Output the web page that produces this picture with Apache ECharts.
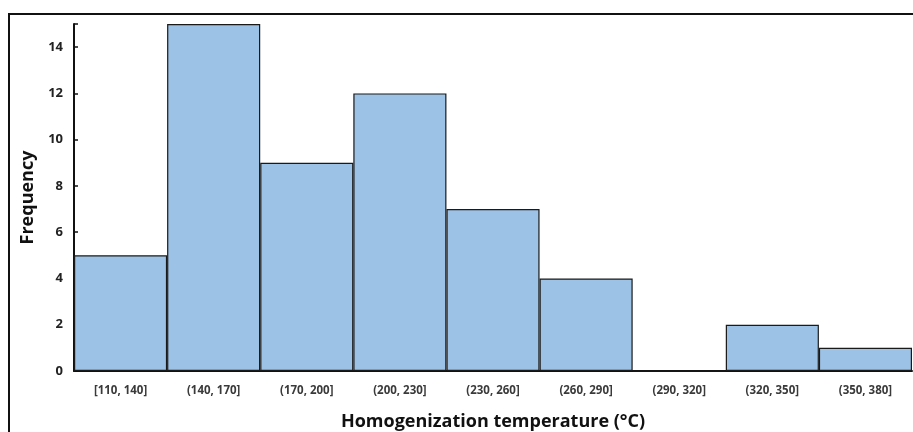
<!DOCTYPE html>
<html>
<head>
<meta charset="utf-8">
<script src="https://cdn.jsdelivr.net/npm/echarts@6/dist/echarts.min.js"></script>
<style>
  html, body { margin: 0; padding: 0; background: #fff; }
  #chart { width: 913px; height: 432px; }
</style>
</head>
<body>
<div id="chart"></div>
<script>
const bins = ['[110, 140]', '(140, 170]', '(170, 200]', '(200, 230]', '(230, 260]',
  '(260, 290]', '(290, 320]', '(320, 350]', '(350, 380]']
const frequency = [5, 15, 9, 12, 7, 4, 0, 2, 1]
const yTicks = [0, 2, 4, 6, 8, 10, 12, 14]

let myChart = echarts.init(document.getElementById('chart'))
let fontFamily = '"Open Sans", "Liberation Sans", sans-serif'
let option = {
  animation: false,
  grid: {
    left: 74,
    right: 1,
    top: 24,
    bottom: 61,
    outerBoundsMode: 'none'
  },
  graphic: [{
    type: 'rect',
    shape: { x: 9, y: 14, width: 920, height: 440 },
    style: { fill: null, stroke: '#111', lineWidth: 2 },
    silent: true
  }],
  xAxis: {
    type: 'category',
    data: bins,
    name: 'Homogenization temperature (°C)',
    nameLocation: 'middle',
    nameGap: 42,
    nameTextStyle: {
      color: '#111',
      fontSize: 18,
      fontWeight: 'bold',
      fontFamily: fontFamily
    },
    axisLine: { lineStyle: { color: '#111', width: 2 } },
    axisTick: { show: false },
    axisLabel: {
      color: '#3a3a3a',
      fontSize: 11.5,
      fontWeight: 'bold',
      fontFamily: fontFamily,
      margin: 14
    }
  },
  yAxis: {
    type: 'value',
    min: 0,
    max: 15,
    interval: 2,
    name: 'Frequency',
    nameLocation: 'middle',
    nameGap: 37,
    nameTextStyle: {
      color: '#111',
      fontSize: 18,
      fontWeight: 'bold',
      fontFamily: fontFamily
    },
    axisLine: { show: true, lineStyle: { color: '#111', width: 2 } },
    axisTick: { show: true, inside: true, length: 4, lineStyle: { color: '#111', width: 1.5 } },
    splitLine: { show: false },
    axisLabel: {
      color: '#222',
      fontSize: 13,
      fontWeight: 'bold',
      fontFamily: fontFamily,
      margin: 11,
      formatter: function (v) {
        return yTicks.indexOf(v) >= 0 ? String(v) : ''
      }
    }
  },
  series: [{
    type: 'bar',
    data: frequency,
    barCategoryGap: '0%',
    itemStyle: {
      color: '#9cc2e5',
      borderColor: '#1a1a1a',
      borderWidth: 1.2
    }
  }]
}
myChart.setOption(option)
</script>
</body>
</html>
